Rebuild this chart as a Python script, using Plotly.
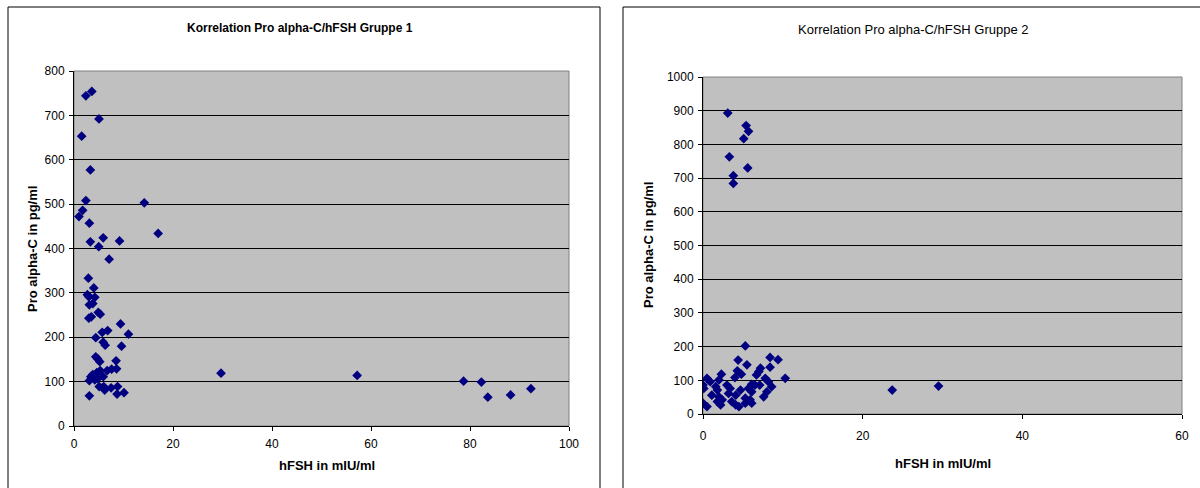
import plotly.graph_objects as go

g1_x = [1.0, 1.75, 2.4, 3.1, 3.3, 5.0, 5.9, 9.2, 14.2, 17.0, 7.1,
        2.4, 3.6, 5.05, 1.55, 3.3,
        2.9, 4.0, 2.7, 4.2, 3.0, 3.8, 3.1, 4.9, 5.3, 3.5, 3.0, 9.4, 6.8, 5.7, 11.0,
        4.4, 5.9, 6.3, 9.6, 4.4, 4.8, 5.2, 8.5, 8.6, 7.6, 6.7, 5.3, 4.6, 3.8, 3.4,
        4.2, 5.9, 4.8, 3.1, 4.2, 5.1, 6.0, 6.2, 7.5, 8.8, 8.7, 10.1, 3.1,
        29.7, 57.2, 78.7, 82.3, 83.6, 88.2, 92.3]
g1_y = [472, 486, 508, 457, 415, 404, 424, 417, 503, 434, 376,
        744, 754, 692, 653, 577,
        333, 311, 296, 290, 291, 276, 273, 256, 252, 246, 243, 230, 215, 211, 207,
        199, 189, 182, 180, 156, 151, 145, 147, 129, 128, 125, 125, 120, 116, 111,
        113, 111, 107, 102, 104, 89, 89, 81, 86, 89, 72, 75, 68,
        119, 114, 101, 99, 65, 70, 84]

g2_x = [3.1, 5.4, 5.7, 5.1, 3.3, 5.6, 3.8, 3.8,
        23.7, 29.5,
        5.3, 4.4, 4.3, 4.8, 4.0, 2.3, 2.0, 0.5, 0.9, 0.0, 0.1, 1.6, 1.8, 3.0,
        3.4, 3.2, 1.1, 2.0, 2.4, 4.1, 4.7, 0.0, 0.5, 1.8, 2.2, 3.6, 4.1, 4.5, 5.3,
        8.4, 9.4, 8.4, 7.2, 7.0, 6.7, 5.5, 10.3, 7.8, 8.2, 8.6, 6.1, 6.5, 7.1,
        5.7, 6.1, 8.0, 7.6, 5.9, 6.1, 5.3]
g2_y = [893, 856, 839, 817, 763, 730, 707, 684,
        71, 83,
        202, 160, 128, 118, 108, 118, 101, 106, 96, 86, 76, 81, 71, 86,
        76, 61, 56, 51, 42, 56, 71, 32, 22, 37, 27, 37, 27, 22, 32,
        168, 161, 139, 136, 126, 116, 146, 106, 106, 96, 81, 88, 86, 86,
        76, 66, 66, 51, 42, 32, 47]

titles = ["Korrelation Pro alpha-C/hFSH Gruppe 1", "Korrelation Pro alpha-C/hFSH Gruppe 2"]
x_title = "hFSH in mIU/ml"
y_title = "Pro alpha-C in pg/ml"

W, H = 1200, 488
def px(x): return x / W
def py(y): return 1 - y / H

FONT = "Liberation Sans, Arial, sans-serif"
MCOL = "#000080"

fig = go.Figure()
fig.add_trace(go.Scatter(x=g1_x, y=g1_y, mode="markers", xaxis="x", yaxis="y",
                         marker=dict(symbol="diamond", size=7.5, color=MCOL), showlegend=False))
fig.add_trace(go.Scatter(x=g2_x, y=g2_y, mode="markers", xaxis="x2", yaxis="y2",
                         marker=dict(symbol="diamond", size=7.5, color=MCOL), showlegend=False))

L = dict(x0=74, x1=569, y0=71, y1=426)
R = dict(x0=703, x1=1182, y0=77, y1=414)

def ax(**kw):
    d = dict(showline=True, linecolor="black", linewidth=1, ticks="outside",
             ticklen=4, tickcolor="black", tickfont=dict(family=FONT, size=12, color="black"),
             zeroline=False, fixedrange=True, automargin=False)
    d.update(kw)
    return d

fig.update_layout(
    template="none",
    width=W, height=H, margin=dict(l=0, r=0, t=0, b=0, pad=0, autoexpand=False),
    paper_bgcolor="white", plot_bgcolor="#C0C0C0",
    xaxis=ax(domain=[px(L["x0"]), px(L["x1"])], range=[0, 100], dtick=20, showgrid=False,
             anchor="y", ticklabelstandoff=3),
    yaxis=ax(domain=[py(L["y1"]), py(L["y0"])], range=[0, 800], dtick=100, showgrid=True,
             gridcolor="black", gridwidth=1, anchor="x", ticklabelstandoff=2),
    xaxis2=ax(domain=[px(R["x0"]), px(R["x1"])], range=[0, 60], dtick=20, showgrid=False,
              anchor="y2", ticklabelstandoff=7),
    yaxis2=ax(domain=[py(R["y1"]), py(R["y0"])], range=[0, 1000], dtick=100, showgrid=True,
              gridcolor="black", gridwidth=1, anchor="x2", ticklabelstandoff=2),
)

shapes = [
    dict(type="rect", xref="paper", yref="paper", x0=px(8), x1=px(600), y0=-0.2, y1=py(7),
         line=dict(color="black", width=1), layer="below"),
    dict(type="rect", xref="paper", yref="paper", x0=px(623), x1=1.2, y0=-0.2, y1=py(7),
         line=dict(color="black", width=1), layer="below"),
    dict(type="rect", xref="x domain", yref="y domain", x0=0, x1=1, y0=0, y1=1,
         line=dict(color="#808080", width=1), layer="below"),
    dict(type="rect", xref="x2 domain", yref="y2 domain", x0=0, x1=1, y0=0, y1=1,
         line=dict(color="#808080", width=1), layer="below"),
]
fig.update_layout(shapes=shapes)

ann = [
    dict(text="<b>" + titles[0] + "</b>", x=px(300), y=py(28), size=12),
    dict(text=titles[1], x=px(913), y=py(29), size=13),
    dict(text="<b>" + x_title + "</b>", x=px(327), y=py(465), size=13),
    dict(text="<b>" + x_title + "</b>", x=px(943), y=py(463), size=13),
    dict(text="<b>" + y_title + "</b>", x=px(32), y=py(249), textangle=-90, size=13),
    dict(text="<b>" + y_title + "</b>", x=px(648), y=py(245), textangle=-90, size=13),
]
for a in ann:
    s = a.pop("size")
    a.update(xref="paper", yref="paper", showarrow=False, xanchor="center", yanchor="middle",
             font=dict(family=FONT, size=s, color="black"))
fig.update_layout(annotations=ann)

fig.write_html("out.html", post_script="document.body.style.margin='0';")
